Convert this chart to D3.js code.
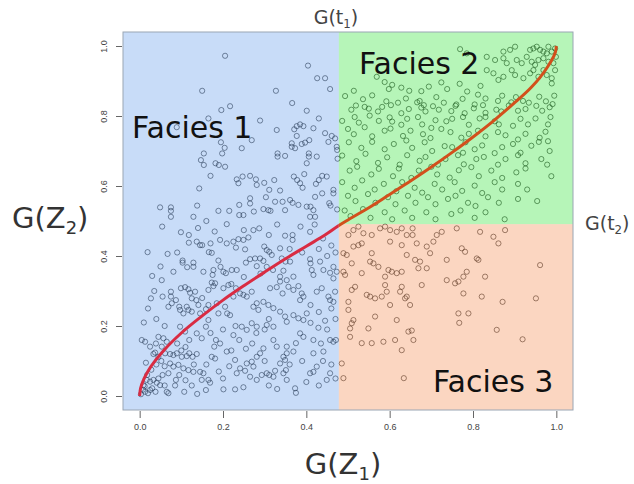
<!DOCTYPE html>
<html>
<head>
<meta charset="utf-8">
<script src="https://cdn.jsdelivr.net/npm/d3@7"></script>
<style>
  html, body { margin: 0; padding: 0; background: #fff; }
  svg { display: block; }
  text { font-family: "DejaVu Sans", Verdana, sans-serif; }
</style>
</head>
<body>
<svg id="chart" width="634" height="484"></svg>
<script>
// Thresholds on the transformed axes
const t1 = 0.478;   // G(t1) on G(Z1)
const t2 = 0.491;   // G(t2) on G(Z2)

// Tick values on both axes
const xTicks = [0, 0.2, 0.4, 0.6, 0.8, 1.0];
const yTicks = [0, 0.2, 0.4, 0.6, 0.8, 1.0];

// Boundary curve between the two variables
const curveX = [0, 0.001, 0.005, 0.01, 0.02, 0.04, 0.06, 0.1, 0.15, 0.2, 0.25, 0.3, 0.35, 0.4, 0.45, 0.478,
  0.5, 0.55, 0.6, 0.65, 0.7, 0.75, 0.8, 0.85, 0.9, 0.94, 0.96, 0.98, 0.99, 0.995, 0.999, 1];
const curveY = [0, 0.014, 0.033, 0.048, 0.071, 0.105, 0.133, 0.18, 0.229, 0.274, 0.315, 0.354, 0.392, 0.428, 0.464, 0.487,
  0.503, 0.538, 0.576, 0.614, 0.654, 0.696, 0.74, 0.787, 0.838, 0.882, 0.909, 0.942, 0.962, 0.974, 0.989, 1];

// Simulated pairs (G(Z1), G(Z2)) falling in Facies 1
const facies1 = [
  [0.205,0.972],[0.404,0.944],[0.426,0.908],[0.445,0.908],[0.150,0.872],[0.327,0.872],[0.457,0.877],[0.366,0.837],
  [0.217,0.828],[0.196,0.817],[0.401,0.815],[0.430,0.793],[0.165,0.793],[0.289,0.787],[0.089,0.768],[0.329,0.760],
  [0.371,0.762],[0.377,0.771],[0.385,0.776],[0.393,0.771],[0.417,0.765],[0.445,0.751],[0.461,0.743],[0.469,0.736],
  [0.377,0.743],[0.269,0.731],[0.195,0.725],[0.204,0.709],[0.245,0.708],[0.365,0.722],[0.365,0.712],[0.373,0.708],
  [0.389,0.720],[0.397,0.724],[0.407,0.731],[0.453,0.726],[0.473,0.712],[0.474,0.703],[0.154,0.693],[0.147,0.674],
  [0.154,0.660],[0.198,0.693],[0.331,0.693],[0.331,0.684],[0.349,0.686],[0.406,0.693],[0.406,0.684],[0.425,0.684],
  [0.401,0.665],[0.475,0.678],[0.182,0.665],[0.190,0.660],[0.205,0.655],[0.170,0.629],[0.143,0.593],[0.233,0.619],
  [0.237,0.608],[0.247,0.627],[0.265,0.629],[0.279,0.619],[0.281,0.603],[0.299,0.609],[0.323,0.617],[0.311,0.589],
  [0.337,0.587],[0.303,0.568],[0.370,0.627],[0.378,0.617],[0.385,0.608],[0.391,0.595],[0.395,0.634],[0.423,0.606],
  [0.430,0.617],[0.438,0.629],[0.449,0.627],[0.438,0.579],[0.421,0.569],[0.465,0.589],[0.465,0.579],[0.455,0.551],
  [0.049,0.539],[0.075,0.539],[0.075,0.529],[0.075,0.512],[0.138,0.544],[0.129,0.512],[0.189,0.529],[0.215,0.529],
  [0.239,0.546],[0.265,0.565],[0.265,0.550],[0.274,0.527],[0.239,0.517],[0.249,0.517],[0.297,0.534],[0.309,0.531],
  [0.314,0.529],[0.325,0.555],[0.343,0.555],[0.349,0.531],[0.361,0.560],[0.367,0.552],[0.381,0.546],[0.401,0.541],
  [0.410,0.541],[0.417,0.531],[0.409,0.512],[0.421,0.512],[0.458,0.544],[0.474,0.533],
  [0.054,0.484],[0.099,0.468],[0.209,0.491],[0.250,0.474],[0.273,0.474],[0.287,0.479],[0.349,0.458],[0.367,0.460],
  [0.367,0.446],[0.409,0.469],[0.386,0.484],[0.118,0.460],[0.118,0.438],[0.137,0.441],[0.145,0.431],[0.150,0.431],
  [0.170,0.436],[0.173,0.409],[0.166,0.411],[0.193,0.446],[0.209,0.436],[0.225,0.441],[0.237,0.448],[0.249,0.446],
  [0.261,0.453],[0.231,0.424],[0.253,0.419],[0.299,0.427],[0.305,0.417],[0.311,0.412],[0.317,0.403],[0.337,0.422],
  [0.019,0.411],[0.067,0.406],[0.103,0.387],[0.103,0.381],[0.114,0.368],[0.129,0.381],[0.129,0.369],[0.153,0.355],
  [0.177,0.360],[0.189,0.387],[0.194,0.369],[0.201,0.355],[0.207,0.351],[0.221,0.360],[0.233,0.360],[0.255,0.381],
  [0.265,0.391],[0.277,0.393],[0.289,0.393],[0.281,0.371],[0.297,0.386],[0.305,0.369],[0.341,0.393],[0.350,0.384],
  [0.361,0.384],[0.345,0.358],[0.337,0.341],[0.353,0.331],[0.369,0.341],[0.409,0.391],[0.410,0.379],[0.413,0.360],
  [0.417,0.346],[0.433,0.384],[0.441,0.360],[0.465,0.369],[0.457,0.352],[0.473,0.355],[0.465,0.336],[0.030,0.343],
  [0.053,0.331],[0.081,0.355],[0.055,0.284],[0.027,0.279],[0.075,0.298],[0.075,0.284],[0.077,0.265],[0.069,0.255],
  [0.087,0.274],[0.095,0.255],[0.097,0.246],[0.105,0.236],[0.099,0.308],[0.109,0.311],[0.117,0.305],[0.121,0.295],
  [0.133,0.298],[0.125,0.279],[0.136,0.274],[0.141,0.260],[0.113,0.255],[0.117,0.246],[0.125,0.241],[0.145,0.236],
  [0.159,0.248],[0.165,0.217],[0.159,0.198],[0.173,0.324],[0.181,0.322],[0.177,0.314],[0.165,0.303],[0.175,0.346],
  [0.201,0.308],[0.213,0.317],[0.231,0.308],[0.225,0.284],[0.241,0.293],[0.249,0.289],[0.257,0.284],[0.269,0.298],
  [0.205,0.255],[0.210,0.236],[0.217,0.231],[0.189,0.236],[0.185,0.265],[0.273,0.255],[0.281,0.265],[0.285,0.246],
  [0.297,0.269],[0.309,0.260],[0.321,0.251],[0.313,0.308],[0.329,0.311],[0.337,0.327],[0.343,0.293],[0.357,0.312],
  [0.369,0.303],[0.381,0.314],[0.389,0.293],[0.385,0.274],[0.393,0.284],[0.425,0.298],[0.437,0.308],[0.453,0.284],
  [0.457,0.274],[0.465,0.269],[0.469,0.298],[0.337,0.241],[0.349,0.227],[0.353,0.212],[0.369,0.231],[0.381,0.222],
  [0.393,0.217],[0.401,0.236],[0.410,0.209],[0.429,0.195],[0.445,0.215],[0.457,0.160],[0.465,0.155],[0.471,0.160],
  [0.005,0.160],[0.013,0.155],[0.025,0.141],[0.039,0.150],[0.037,0.124],[0.045,0.112],[0.033,0.120],[0.045,0.169],
  [0.057,0.165],[0.065,0.155],[0.053,0.141],[0.061,0.122],[0.073,0.120],[0.081,0.117],[0.089,0.122],[0.101,0.112],
  [0.113,0.114],[0.119,0.122],[0.127,0.112],[0.137,0.120],[0.073,0.093],[0.081,0.084],[0.093,0.089],[0.105,0.079],
  [0.117,0.074],[0.129,0.069],[0.069,0.065],[0.087,0.046],[0.065,0.012],[0.069,0.008],[0.107,0.012],[0.138,0.006],
  [0.009,0.031],[0.017,0.046],[0.025,0.041],[0.033,0.046],[0.041,0.038],[0.013,0.012],[0.025,0.017],[0.049,0.031],
  [0.145,0.069],[0.153,0.065],[0.149,0.046],[0.165,0.046],[0.169,0.038],[0.159,0.017],[0.201,0.019],[0.229,0.019],
  [0.249,0.025],[0.233,0.065],[0.253,0.072],[0.241,0.079],[0.173,0.112],[0.181,0.107],[0.179,0.141],[0.183,0.160],
  [0.193,0.150],[0.209,0.127],[0.225,0.174],[0.239,0.160],[0.229,0.103],[0.257,0.093],[0.269,0.098],[0.273,0.084],
  [0.265,0.055],[0.281,0.046],[0.293,0.060],[0.305,0.065],[0.311,0.060],[0.325,0.072],[0.321,0.055],[0.345,0.065],
  [0.351,0.074],[0.353,0.046],[0.373,0.022],[0.375,0.009],[0.409,0.065],[0.417,0.069],[0.425,0.084],[0.449,0.046],
  [0.457,0.065],[0.441,0.127],[0.417,0.122],[0.321,0.160],[0.329,0.141],[0.353,0.141],[0.353,0.122],[0.369,0.127],
  [0.375,0.151],[0.385,0.179],[0.393,0.169],[0.417,0.160],[0.345,0.112],[0.349,0.103],[0.337,0.093],[0.281,0.112],
  [0.289,0.122],[0.297,0.136],[0.245,0.198],[0.257,0.189],[0.269,0.208],[0.281,0.198],[0.305,0.203],[0.321,0.198],
  [0.137,0.179],[0.149,0.165],[0.119,0.160],[0.109,0.184],[0.097,0.198],
  [0.003,0.005],[0.008,0.018],[0.012,0.028],[0.020,0.008],[0.030,0.022],[0.038,0.012],[0.045,0.050],[0.055,0.060],
  [0.060,0.030],[0.018,0.060],[0.028,0.075],[0.040,0.090],[0.052,0.100],[0.015,0.095],[0.060,0.085],[0.085,0.030],
  [0.095,0.060],[0.110,0.045],[0.125,0.030],[0.130,0.090],[0.160,0.090],[0.190,0.070],[0.200,0.050],[0.215,0.085],
  [0.220,0.130],[0.255,0.135],[0.270,0.150],[0.300,0.100],[0.310,0.030],[0.330,0.020],[0.360,0.090],[0.390,0.100],
  [0.400,0.040],[0.430,0.030],[0.440,0.100],[0.460,0.090],[0.470,0.050],[0.435,0.150],[0.450,0.190],[0.470,0.220],
  [0.460,0.250],[0.430,0.240],[0.410,0.260],[0.300,0.190],[0.310,0.220],[0.280,0.180],[0.230,0.200],[0.200,0.190],
  [0.170,0.180],[0.165,0.260],[0.150,0.280],[0.060,0.200],[0.040,0.220],[0.020,0.250],[0.010,0.210],[0.035,0.300],
  [0.050,0.370],[0.090,0.410],[0.140,0.480],[0.160,0.500],[0.180,0.470],[0.310,0.460],[0.330,0.490],[0.420,0.490],
  [0.440,0.450],[0.460,0.430],[0.470,0.410],[0.450,0.400],[0.430,0.420],[0.390,0.410],[0.360,0.420],[0.320,0.360],
  [0.290,0.350],[0.250,0.340],[0.220,0.320],[0.100,0.130],[0.090,0.150],[0.110,0.140]
];

// Pairs falling in Facies 2
const facies2 = [
  [0.769,0.991],[0.785,0.979],[0.873,0.984],[0.889,0.989],[0.901,0.998],[0.937,0.989],[0.945,0.993],[0.953,0.998],
  [0.961,0.989],[0.969,0.984],[0.981,0.998],[0.977,0.979],[0.989,0.984],[0.997,0.993],
  [0.833,0.969],[0.853,0.960],[0.873,0.965],[0.881,0.951],[0.905,0.960],[0.917,0.951],[0.929,0.969],[0.941,0.955],
  [0.949,0.946],[0.957,0.960],[0.969,0.965],[0.981,0.955],[0.993,0.951],[0.999,0.969],
  [0.833,0.931],[0.849,0.922],[0.861,0.903],[0.873,0.912],[0.893,0.931],[0.901,0.917],[0.921,0.908],[0.937,0.922],
  [0.945,0.931],[0.957,0.912],[0.969,0.931],[0.977,0.917],[0.989,0.908],[0.997,0.931],[0.989,0.893],
  [0.569,0.912],[0.588,0.897],[0.606,0.889],[0.628,0.881],[0.647,0.872],[0.676,0.871],[0.694,0.884],[0.724,0.896],
  [0.738,0.877],[0.768,0.892],[0.786,0.870],[0.812,0.861],[0.818,0.886],
  [0.493,0.857],[0.514,0.872],[0.536,0.848],[0.558,0.859],[0.592,0.842],[0.598,0.877],[0.620,0.838],[0.639,0.850],
  [0.672,0.843],[0.682,0.831],[0.712,0.854],[0.730,0.838],[0.760,0.833],[0.775,0.849],[0.804,0.833],[0.830,0.850],
  [0.860,0.843],[0.870,0.858],[0.892,0.839],[0.903,0.854],[0.920,0.843],[0.934,0.838],[0.959,0.855],[0.975,0.842],
  [0.991,0.834],[0.995,0.858],
  [0.508,0.818],[0.519,0.830],[0.540,0.826],[0.550,0.821],[0.572,0.813],[0.582,0.826],[0.603,0.831],[0.628,0.808],
  [0.646,0.820],[0.666,0.839],[0.676,0.824],[0.686,0.813],[0.704,0.828],[0.718,0.818],[0.748,0.814],[0.758,0.829],
  [0.780,0.808],[0.802,0.822],[0.824,0.831],[0.830,0.809],[0.856,0.818],[0.868,0.813],[0.886,0.830],[0.908,0.815],
  [0.926,0.820],[0.952,0.829],[0.966,0.815],[0.984,0.825],
  [0.486,0.786],[0.516,0.797],[0.526,0.781],[0.552,0.801],[0.574,0.786],[0.600,0.796],[0.606,0.784],[0.628,0.775],
  [0.642,0.792],[0.668,0.797],[0.678,0.776],[0.700,0.766],[0.710,0.788],[0.736,0.785],[0.750,0.792],[0.776,0.797],
  [0.790,0.775],[0.816,0.793],[0.830,0.797],[0.852,0.785],[0.862,0.776],[0.896,0.772],[0.914,0.792],[0.932,0.776],
  [0.950,0.793],[0.980,0.776],[0.986,0.797],
  [0.500,0.763],[0.514,0.748],[0.540,0.768],[0.558,0.742],[0.588,0.758],[0.602,0.764],[0.632,0.743],[0.650,0.758],
  [0.680,0.748],[0.698,0.737],[0.724,0.763],[0.746,0.754],[0.772,0.738],[0.790,0.749],[0.812,0.758],[0.830,0.742],
  [0.860,0.754],[0.878,0.745],[0.908,0.733],[0.926,0.749],[0.960,0.738],[0.974,0.755],[0.980,0.728],
  [0.502,0.725],[0.532,0.709],[0.558,0.726],[0.588,0.705],[0.610,0.720],[0.640,0.730],[0.654,0.709],[0.684,0.725],
  [0.702,0.700],[0.732,0.714],[0.750,0.711],[0.776,0.695],[0.782,0.725],[0.804,0.705],[0.822,0.716],[0.852,0.694],
  [0.870,0.711],[0.896,0.720],[0.914,0.695],[0.940,0.715],[0.958,0.726],[0.984,0.700],
  [0.486,0.687],[0.520,0.671],[0.542,0.692],[0.572,0.666],[0.594,0.682],[0.624,0.661],[0.642,0.688],[0.672,0.672],
  [0.686,0.683],[0.716,0.661],[0.734,0.677],[0.764,0.688],[0.778,0.662],[0.808,0.677],[0.826,0.683],[0.860,0.661],
  [0.878,0.677],[0.908,0.688],[0.926,0.665],[0.964,0.677],[0.978,0.661],
  [0.504,0.644],[0.522,0.655],[0.556,0.633],[0.574,0.649],[0.608,0.628],[0.622,0.650],[0.652,0.623],[0.670,0.644],
  [0.700,0.655],[0.714,0.633],[0.744,0.624],[0.766,0.645],[0.796,0.654],[0.814,0.628],[0.844,0.644],[0.870,0.623],
  [0.904,0.639],[0.926,0.650],[0.988,0.628],
  [0.486,0.611],[0.516,0.595],[0.534,0.616],[0.564,0.590],[0.586,0.606],[0.616,0.585],[0.630,0.611],[0.660,0.595],
  [0.678,0.581],[0.708,0.606],[0.726,0.590],[0.756,0.611],[0.774,0.586],[0.804,0.601],[0.822,0.580],[0.852,0.611],
  [0.870,0.590],[0.908,0.606],[0.930,0.590],
  [0.500,0.572],[0.518,0.557],[0.548,0.577],[0.566,0.552],[0.596,0.568],[0.614,0.548],[0.644,0.572],[0.662,0.552],
  [0.692,0.568],[0.710,0.548],[0.740,0.563],[0.758,0.572],[0.788,0.552],[0.806,0.543],[0.836,0.568],[0.862,0.552],
  [0.908,0.563],[0.954,0.557],
  [0.492,0.530],[0.506,0.514],[0.536,0.534],[0.554,0.509],[0.588,0.525],[0.606,0.505],[0.636,0.530],[0.654,0.509],
  [0.688,0.525],[0.710,0.505],[0.748,0.520],[0.770,0.530],[0.804,0.509],[0.830,0.525],[0.876,0.505]
];

// Pairs falling in Facies 3
const facies3 = [
  [0.501,0.460],[0.513,0.474],[0.525,0.484],[0.537,0.465],[0.557,0.460],[0.577,0.479],[0.589,0.484],[0.601,0.474],
  [0.617,0.469],[0.629,0.479],[0.641,0.460],[0.655,0.479],[0.655,0.460],
  [0.513,0.427],[0.525,0.431],[0.533,0.436],[0.557,0.408],[0.601,0.441],[0.629,0.431],[0.665,0.436],[0.689,0.427],
  [0.705,0.441],[0.713,0.460],[0.725,0.469],[0.761,0.479],[0.773,0.422],[0.781,0.412],[0.817,0.469],[0.849,0.455],
  [0.861,0.436],[0.877,0.474],
  [0.489,0.408],[0.497,0.403],[0.509,0.379],[0.553,0.384],[0.561,0.379],[0.573,0.369],[0.597,0.360],[0.605,0.355],
  [0.617,0.351],[0.629,0.355],[0.641,0.403],[0.661,0.389],[0.673,0.384],[0.669,0.365],[0.689,0.365],[0.697,0.408],
  [0.737,0.389],[0.809,0.393],[0.813,0.389],[0.829,0.341],[0.785,0.355],[0.777,0.341],[0.765,0.327],[0.757,0.322],
  [0.737,0.331],[0.961,0.374],
  [0.489,0.355],[0.493,0.346],[0.533,0.351],[0.589,0.341],[0.517,0.312],[0.509,0.303],[0.545,0.289],[0.553,0.284],
  [0.565,0.279],[0.581,0.284],[0.589,0.317],[0.593,0.298],[0.625,0.298],[0.629,0.312],[0.641,0.284],[0.649,0.260],
  [0.601,0.260],[0.677,0.317],[0.637,0.279],
  [0.765,0.236],[0.789,0.236],[0.767,0.209],[0.777,0.293],[0.821,0.284],[0.871,0.269],[0.951,0.279],[0.857,0.189],
  [0.919,0.162],
  [0.501,0.269],[0.501,0.246],[0.513,0.217],[0.509,0.208],[0.505,0.193],[0.505,0.169],[0.533,0.151],[0.549,0.193],
  [0.557,0.151],[0.565,0.227],[0.585,0.155],[0.613,0.160],[0.617,0.217],[0.629,0.131],[0.645,0.184],[0.653,0.187],
  [0.657,0.160],
  [0.485,0.093],[0.489,0.051],[0.634,0.051]
];

const svg = d3.select("#chart");
const W = 634, H = 484;

// Plot region with R-style 4% padding on both axes
const x = d3.scaleLinear().domain([-0.04, 1.04]).range([123, 573]);
const y = d3.scaleLinear().domain([-0.04, 1.04]).range([410, 32]);

svg.append("rect").attr("width", W).attr("height", H).attr("fill", "#fff");

// Scatter of simulated pairs (open circles)
const allPoints = facies1.concat(facies2, facies3);
svg.append("g")
  .selectAll("circle")
  .data(allPoints)
  .join("circle")
  .attr("cx", d => x(d[0]))
  .attr("cy", d => y(d[1]))
  .attr("r", 2.6)
  .attr("fill", "none")
  .attr("stroke", "#000")
  .attr("stroke-opacity", 0.7)
  .attr("stroke-width", 0.8);

// Translucent facies regions laid over the scatter
const regions = [
  { x0: -0.04, x1: t1, y0: -0.04, y1: 1.04, fill: "#629beb" },
  { x0: t1, x1: 1.04, y0: t2, y1: 1.04, fill: "#2ee234" },
  { x0: t1, x1: 1.04, y0: -0.04, y1: t2, fill: "#f38a4e" }
];
svg.append("g")
  .selectAll("rect")
  .data(regions)
  .join("rect")
  .attr("x", d => x(d.x0))
  .attr("y", d => y(d.y1))
  .attr("width", d => x(d.x1) - x(d.x0))
  .attr("height", d => y(d.y0) - y(d.y1))
  .attr("fill", d => d.fill)
  .attr("fill-opacity", 0.35);

// Box around the plot region
svg.append("rect")
  .attr("x", x(-0.04)).attr("y", y(1.04))
  .attr("width", x(1.04) - x(-0.04)).attr("height", y(-0.04) - y(1.04))
  .attr("fill", "none").attr("stroke", "#9aa6b4").attr("stroke-width", 1);

// Boundary curve, tinted by the region it crosses
const curvePts = curveX.map((v, i) => [v, curveY[i]]);
const line = d3.line().x(d => x(d[0])).y(d => y(d[1])).curve(d3.curveMonotoneX);
const defs = svg.append("defs");
defs.append("clipPath").attr("id", "clipLeft")
  .append("rect").attr("x", 0).attr("y", 0).attr("width", x(t1)).attr("height", H);
defs.append("clipPath").attr("id", "clipRight")
  .append("rect").attr("x", x(t1)).attr("y", 0).attr("width", W - x(t1)).attr("height", H);
svg.append("path").datum(curvePts)
  .attr("d", line).attr("fill", "none")
  .attr("stroke", "#d92c43").attr("stroke-width", 3)
  .attr("clip-path", "url(#clipLeft)");
svg.append("path").datum(curvePts)
  .attr("d", line).attr("fill", "none")
  .attr("stroke", "#d2501c").attr("stroke-width", 3)
  .attr("clip-path", "url(#clipRight)");

// Axes
const xAxis = d3.axisBottom(x).tickValues(xTicks).tickFormat(d3.format(".1f")).tickSize(7).tickPadding(6);
const gx = svg.append("g").attr("transform", `translate(0,${y(-0.04) + 1})`).call(xAxis);
gx.select(".domain").remove();
gx.selectAll("line").attr("stroke", "#666");
gx.selectAll("text").attr("fill", "#444").style("font-family", "'Liberation Sans', Arial, sans-serif").style("font-size", "9px");

const yAxis = d3.axisLeft(y).tickValues(yTicks).tickFormat(d3.format(".1f")).tickSize(6).tickPadding(0);
const gy = svg.append("g").attr("transform", `translate(${x(-0.04) - 1},0)`).call(yAxis);
gy.select(".domain").remove();
gy.selectAll("line").attr("stroke", "#666");
gy.selectAll("text")
  .attr("fill", "#444")
  .style("font-family", "'Liberation Sans', Arial, sans-serif").style("font-size", "9px")
  .attr("text-anchor", "middle")
  .attr("x", null).attr("dy", null)
  .attr("transform", "translate(-17,0) rotate(-90)")
  .attr("dominant-baseline", "middle");

// Facies labels
const labels = [
  { text: "Facies 1", px: 132, py: 138 },
  { text: "Facies 2", px: 359, py: 74 },
  { text: "Facies 3", px: 433, py: 392 }
];
svg.append("g")
  .selectAll("text")
  .data(labels)
  .join("text")
  .attr("x", d => d.px).attr("y", d => d.py)
  .attr("font-size", 30).attr("fill", "#111")
  .text(d => d.text);

// Axis and threshold titles with subscripts
function subTitle(parent, px, py, base, sub, size, anchor, color) {
  const t = parent.append("text")
    .attr("x", px).attr("y", py)
    .attr("font-size", size).attr("fill", color)
    .attr("text-anchor", anchor);
  t.append("tspan").text("G(" + base);
  t.append("tspan").attr("font-size", size * 0.62).attr("dy", size * 0.22).text(sub);
  t.append("tspan").attr("dy", -size * 0.22).text(")");
  return t;
}
subTitle(svg, 343, 474, "Z", "1", 29, "middle", "#333");
subTitle(svg, 12, 228, "Z", "2", 29, "start", "#333");
subTitle(svg, 336, 24, "t", "1", 19, "middle", "#444");
subTitle(svg, 585, 230, "t", "2", 19, "start", "#444");
</script>
</body>
</html>
